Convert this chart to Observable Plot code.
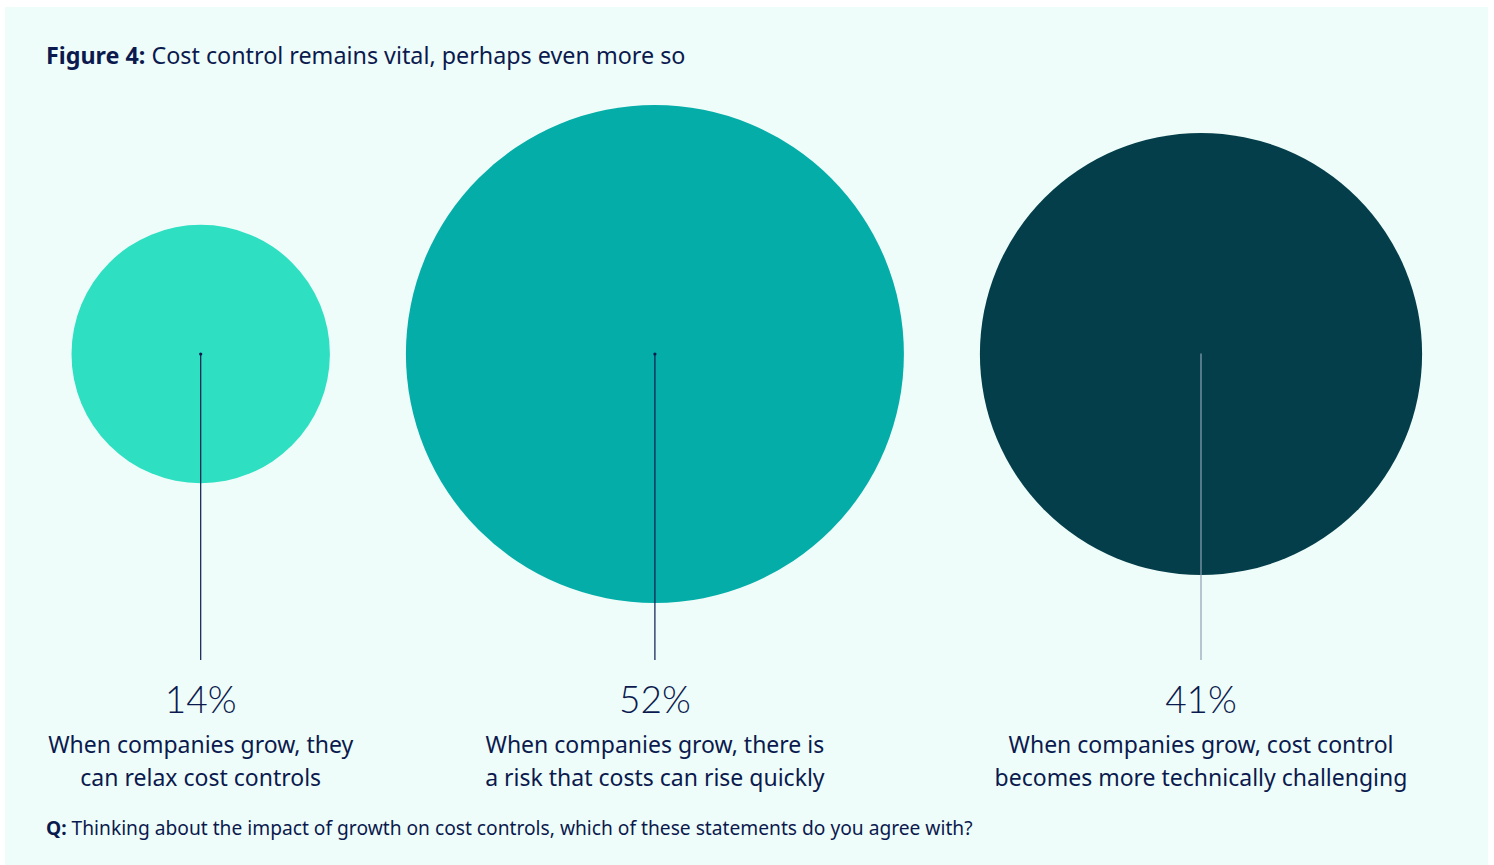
<!DOCTYPE html>
<html>
<head>
<meta charset="utf-8">
<script src="https://cdn.jsdelivr.net/npm/d3@7"></script>
<script src="https://cdn.jsdelivr.net/npm/@observablehq/plot@0.6"></script>
<style>
  html, body { margin: 0; padding: 0; background: #ffffff; }
  body { width: 1494px; height: 865px; position: relative; overflow: hidden; font-family: "Noto Sans", Lato, sans-serif; color: #0B1A4E; }
  #panel { position: absolute; left: 5px; top: 7px; width: 1483px; height: 870px; background: #EFFDFA; }
  #title { position: absolute; left: 41px; top: 32px; font-size: 23.3px; white-space: nowrap; }
  #title b { font-weight: 700; }
  #chart { position: absolute; left: 0; top: 83px; }
  #footer { position: absolute; left: 41px; top: 807px; font-size: 19.2px; white-space: nowrap; }
  #footer b { font-weight: 700; }
</style>
</head>
<body>
<div id="panel">
  <div id="title"><b>Figure 4:</b> Cost control remains vital, perhaps even more so</div>
  <div id="chart"></div>
  <div id="footer"><b>Q:</b> Thinking about the impact of growth on cost controls, which of these statements do you agree with?</div>
</div>
<script>
const categories = [
  "When companies grow, they\ncan relax cost controls",
  "When companies grow, there is\na risk that costs can rise quickly",
  "When companies grow, cost control\nbecomes more technically challenging"
];
const values = [14, 52, 41];
const valueLabels = ["14%", "52%", "41%"];
const fills = ["#2EDFC1", "#05ADA8", "#043E4A"];
const ruleColors = ["#0B1A4E", "#0B1A4E", "#8FA2B4"];

const W = 1483, H = 710;
const rMax = 249, gap = 76, left = 66;
const rScale = v => rMax * Math.sqrt(v / d3.max(values));

// Pack circles side by side with equal gaps, derived from the radii
let cursor = left;
const data = values.map((v, i) => {
  const r = rScale(v);
  const cx = cursor + r;
  cursor += 2 * r + gap;
  return { label: categories[i], value: v, text: valueLabels[i], fill: fills[i], rule: ruleColors[i], cx };
});

const chart = Plot.plot({
  width: W,
  height: H,
  margin: 0,
  style: { background: "transparent", fontFamily: "'Noto Sans', Lato, sans-serif", overflow: "visible" },
  x: { domain: [0, W], range: [0, W], axis: null },
  y: { domain: [0, 1], range: [263.5, 570], axis: null },
  r: { type: "sqrt", domain: [0, d3.max(values)], range: [0, rMax] },
  marks: [
    Plot.dot(data, { x: "cx", y: () => 0, r: "value", fill: "fill", stroke: null }),
    Plot.ruleX(data, { x: "cx", y1: () => 0, y2: () => 1, stroke: "rule", strokeWidth: 1.2 }),
    Plot.dot(data.filter((d, i) => i < 2), { x: "cx", y: () => 0, r: 1.6, fill: "#0B1A4E" }),
    Plot.text(data, { x: "cx", y: () => 1, dy: 41, text: "text", fill: "#0B1A4E", fontSize: 37, fontWeight: 300, fontFamily: "Lato, 'Noto Sans', sans-serif" }),
    Plot.text(data, { x: "cx", y: () => 1, dy: 69, text: "label", fill: "#0B1A4E", fontSize: 23, lineAnchor: "top", lineHeight: 1.435 })
  ]
});
document.getElementById("chart").appendChild(chart);
</script>
</body>
</html>
